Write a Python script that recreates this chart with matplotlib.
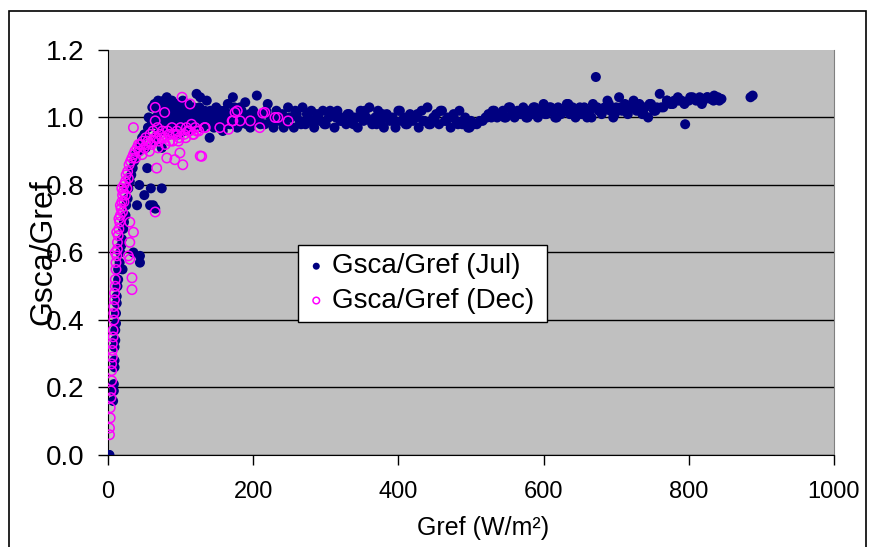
import matplotlib.pyplot as plt
from matplotlib.patches import Rectangle

# Gsca/Gref vs Gref
jul_x = [1, 2, 7, 8, 8, 9, 9, 9, 10, 10, 11, 11, 12, 12, 13, 14, 14, 16, 17, 18,
         19, 20, 21, 22, 24, 25, 27, 28, 30, 32, 35, 34, 36, 38, 40, 42, 43, 44, 44, 45,
         47, 50, 50, 52, 54, 55, 58, 59, 60, 61, 62, 63, 65, 66, 68, 70, 72, 74, 74, 76,
         78, 80, 81, 83, 85, 87, 89, 91, 93, 95, 97, 99, 101, 103, 105, 107, 109, 111, 113, 116,
         118, 120, 122, 125, 127, 130, 133, 136, 139, 140, 143, 146, 149, 152, 155, 158, 161, 165, 168, 172,
         175, 178, 182, 185, 189, 192, 196, 200, 205, 208, 212, 216, 220, 224, 228, 232, 236, 240, 244, 248,
         252, 256, 260, 264, 268, 272, 276, 280, 284, 288, 292, 296, 300, 304, 308, 312, 316, 320, 324, 328,
         332, 336, 340, 344, 348, 352, 356, 360, 364, 368, 372, 376, 380, 384, 388, 392, 396, 400, 404, 408,
         412, 416, 420, 424, 428, 432, 436, 440, 444, 448, 452, 456, 460, 464, 468, 472, 476, 480, 484, 488,
         492, 496, 500, 504, 508, 512, 516, 520, 524, 528, 532, 536, 540, 544, 548, 552, 556, 560, 564, 568,
         572, 576, 580, 584, 588, 592, 596, 600, 604, 608, 612, 616, 620, 624, 628, 632, 636, 640, 644, 648,
         652, 656, 660, 664, 668, 672, 676, 680, 684, 688, 692, 696, 700, 704, 708, 712, 716, 720, 724, 728,
         732, 736, 740, 744, 748, 752, 756, 760, 765, 770, 775, 780, 785, 790, 795, 800, 805, 810, 815, 820,
         825, 830, 835, 840, 845, 885, 888]
jul_y = [0.00, 0.00, 0.16, 0.19, 0.21, 0.26, 0.28, 0.32, 0.34, 0.37, 0.39, 0.42, 0.45, 0.47, 0.50, 0.52, 0.55, 0.57, 0.60, 0.62,
         0.64, 0.55, 0.67, 0.69, 0.71, 0.74, 0.76, 0.79, 0.81, 0.83, 0.60, 0.85, 0.87, 0.89, 0.74, 0.90, 0.80, 0.57, 0.59, 0.92,
         0.94, 0.77, 0.95, 0.91, 0.85, 0.97, 0.74, 0.79, 0.98, 1.03, 0.74, 0.93, 0.73, 1.00, 0.95, 1.02, 0.97, 0.79, 0.91, 1.00,
         0.96, 1.04, 1.06, 0.99, 0.95, 1.02, 0.97, 1.00, 1.04, 0.98, 0.95, 1.01, 1.03, 1.05, 0.99, 0.96, 1.02, 0.98, 1.01, 0.97,
         1.03, 0.99, 1.07, 1.00, 1.06, 0.97, 1.02, 1.05, 0.99, 0.94, 1.01, 0.97, 1.03, 0.99, 1.02, 0.96, 1.00, 1.04, 0.98, 1.06,
         1.01, 0.97, 1.03, 0.99, 1.045, 1.00, 0.97, 1.02, 1.065, 0.99, 1.01, 0.98, 1.04, 1.00, 0.97, 1.02, 0.99, 1.01, 0.98, 1.03,
         1.00, 0.97, 1.01, 0.99, 1.03, 0.98, 1.00, 1.02, 0.97, 1.01, 0.99, 1.02, 0.98, 1.00, 1.01, 0.97, 1.02, 0.99, 1.00, 0.98,
         1.01, 0.99, 1.00, 0.97, 1.02, 0.99, 1.00, 1.03, 0.98, 1.00, 1.02, 0.99, 0.97, 1.01, 0.99, 1.00, 0.97, 1.02, 0.99, 1.00,
         0.98, 1.01, 0.99, 1.00, 0.97, 1.02, 0.99, 1.03, 0.98, 1.00, 1.01, 0.98, 1.02, 0.99, 1.00, 0.97, 1.01, 0.99, 1.02, 0.98,
         1.00, 0.97, 0.99, 0.98, 0.98, 0.99, 0.99, 1.00, 1.01, 1.00, 1.02, 1.00, 1.01, 1.02, 1.00, 1.03, 1.01, 1.00, 1.02, 1.01,
         1.03, 1.00, 1.02, 1.01, 1.03, 1.00, 1.02, 1.04, 1.01, 1.03, 1.02, 1.00, 1.03, 1.01, 1.02, 1.04, 1.01, 1.03, 1.00, 1.02,
         1.01, 1.03, 1.00, 1.02, 1.04, 1.12, 1.02, 1.01, 1.03, 1.05, 1.02, 1.00, 1.03, 1.06, 1.02, 1.04, 1.01, 1.03, 1.05, 1.02,
         1.04, 1.01, 1.03, 1.00, 1.04, 1.02, 1.03, 1.07, 1.03, 1.05, 1.04, 1.05, 1.06, 1.05, 0.98, 1.05, 1.06, 1.055, 1.06, 1.05,
         1.06, 1.055, 1.065, 1.06, 1.055, 1.06, 1.065]

# more July points in the crowded part of the band
jul_x_top = [56, 64, 67, 69, 71, 73, 75, 77, 79, 82, 84, 86, 88, 90, 92, 94, 96, 98, 100, 102,
             104, 106, 108, 110, 112, 114, 117, 119, 121, 124, 126, 128, 131, 134, 137, 141, 144, 147, 150, 153,
             156, 160, 163, 167, 170, 174, 177, 181, 184, 188, 191, 195, 198]
jul_y_top = [1.00, 1.04, 0.98, 1.05, 0.99, 1.03, 0.97, 1.05, 1.01, 0.98, 1.03, 1.00, 1.05, 0.97, 1.02, 0.99, 1.03, 1.00, 0.98, 1.04,
             1.01, 1.03, 0.99, 1.04, 0.96, 1.00, 1.02, 0.98, 1.01, 0.98, 1.03, 1.00, 0.99, 1.00, 0.98, 1.02, 1.00, 0.99, 1.01, 0.97,
             1.00, 1.02, 0.98, 1.01, 0.99, 1.03, 1.00, 0.98, 1.02, 1.00, 0.98, 1.01, 0.99]
jul_x_mid = [202, 210, 218, 226, 234, 242, 250, 258, 266, 274, 282, 290, 298, 306, 314, 322, 330, 338, 346, 354,
             362, 370, 378, 386, 394, 402, 410, 418, 426, 434, 442, 450, 458, 466, 474, 482, 490, 498]
jul_y_mid = [1.00, 0.98, 1.02, 0.99, 1.01, 0.97, 1.00, 1.02, 0.98, 1.01, 0.99, 1.00, 0.98, 1.02, 1.00, 0.99, 1.01, 0.98, 1.00, 1.02,
             0.99, 0.98, 1.01, 1.00, 0.99, 1.02, 0.98, 1.00, 1.01, 0.99, 0.98, 1.00, 1.02, 0.99, 1.00, 0.98, 0.99, 0.97]
jul_x_high = [522, 530, 538, 546, 554, 562, 570, 578, 586, 594, 602, 610, 618, 626, 634, 642, 650, 658, 666, 674,
              682, 690, 698, 706, 714, 722, 730, 738, 746, 754, 762, 770, 778, 786, 794, 802, 810, 818, 826, 834,
              842]
jul_y_high = [1.00, 1.02, 1.01, 1.00, 1.03, 1.01, 1.02, 1.00, 1.03, 1.02, 1.01, 1.03, 1.00, 1.02, 1.04, 1.01, 1.03, 1.02, 1.00, 1.03,
              1.02, 1.04, 1.01, 1.03, 1.02, 1.04, 1.03, 1.01, 1.04, 1.02, 1.03, 1.05, 1.04, 1.05, 1.04, 1.06, 1.05, 1.04, 1.06, 1.05,
              1.05]

dec_x = [2, 2, 3, 3, 4, 4, 5, 5, 5, 6, 6, 6, 7, 7, 8, 8, 8, 9, 9, 10,
         10, 11, 11, 12, 13, 13, 14, 15, 16, 17, 18, 19, 20, 21, 22, 24, 25, 27, 28, 30,
         30, 30, 33, 33, 35, 29, 31, 33, 35, 37, 40, 42, 45, 48, 50, 52, 55, 58, 60, 62,
         65, 65, 65, 67, 68, 70, 72, 75, 78, 78, 81, 82, 85, 88, 90, 92, 95, 97, 99, 100,
         102, 103, 105, 108, 110, 113, 115, 118, 120, 125, 127, 129, 134, 154, 166, 171, 172, 175, 178, 182,
         196, 209, 213, 216, 230, 234, 248, 20, 22, 24, 26, 28, 15, 17, 19, 12, 10, 35, 65, 133,
         38, 43, 47, 53, 57, 63, 69, 74, 79, 84, 89, 94, 98, 107, 112, 117, 122]
dec_y = [0.06, 0.08, 0.11, 0.14, 0.17, 0.19, 0.22, 0.25, 0.27, 0.29, 0.31, 0.33, 0.35, 0.37, 0.40, 0.42, 0.44, 0.46, 0.48, 0.50,
         0.52, 0.55, 0.57, 0.59, 0.61, 0.63, 0.65, 0.67, 0.69, 0.71, 0.73, 0.75, 0.77, 0.78, 0.80, 0.81, 0.83, 0.84, 0.59, 0.58,
         0.63, 0.69, 0.49, 0.525, 0.66, 0.86, 0.87, 0.88, 0.89, 0.90, 0.91, 0.92, 0.92, 0.93, 0.91, 0.94, 0.93, 0.95, 0.92, 0.96,
         0.72, 0.94, 1.03, 0.85, 0.97, 0.93, 0.95, 0.96, 1.015, 0.94, 0.88, 0.96, 0.93, 0.97, 0.95, 0.875, 0.96, 0.93, 0.895, 0.97,
         1.06, 0.86, 0.95, 0.97, 0.96, 1.04, 0.98, 0.95, 0.97, 0.96, 0.886, 0.885, 0.97, 0.97, 0.965, 0.99, 0.99, 1.015, 1.02, 0.99,
         0.99, 0.97, 1.013, 1.015, 1.00, 1.00, 0.99, 0.72, 0.75, 0.77, 0.79, 0.82, 0.70, 0.74, 0.79, 0.66, 0.60, 0.97, 0.99, 0.97,
         0.88, 0.90, 0.89, 0.92, 0.90, 0.93, 0.91, 0.94, 0.92, 0.95, 0.93, 0.95, 0.94, 0.94, 0.96, 0.95, 0.96]

jul_x_all = jul_x + jul_x_top + jul_x_mid + jul_x_high
jul_y_all = jul_y + jul_y_top + jul_y_mid + jul_y_high

fig = plt.figure(figsize=(8.69, 5.47), dpi=100)
ax = fig.add_axes([0.1243, 0.1682, 0.8354, 0.7404])
ax.set_facecolor('#C0C0C0')

ax.scatter(jul_x_all, jul_y_all, s=52, color='#000080', edgecolors='none', label='Gsca/Gref (Jul)', zorder=3)
ax.scatter(dec_x, dec_y, s=46, facecolors='none', edgecolors='#FF00FF', linewidths=1.1,
           label='Gsca/Gref (Dec)', zorder=4)

ax.set_xlim(0, 1000)
ax.set_ylim(0, 1.2)
ax.set_xticks([0, 200, 400, 600, 800, 1000])
ax.set_yticks([0.0, 0.2, 0.4, 0.6, 0.8, 1.0, 1.2])
ax.set_yticklabels(['0.0', '0.2', '0.4', '0.6', '0.8', '1.0', '1.2'])
ax.yaxis.grid(True, color='black', linewidth=1.0)
ax.get_ygridlines()[-1].set_visible(False)
ax.set_axisbelow(True)

ax.tick_params(axis='y', direction='out', length=7, width=1, labelsize=20, pad=10)
ax.tick_params(axis='x', direction='out', length=7, width=1, labelsize=17, pad=12)
for lab in ax.get_xticklabels() + ax.get_yticklabels():
    lab.set_family('Liberation Sans')

ax.spines['left'].set_color('black')
ax.spines['bottom'].set_color('black')
ax.spines['right'].set_color('#808080')
ax.spines['top'].set_visible(False)

ax.set_xlabel('Gref (W/m²)', fontsize=18, family='Liberation Sans')
ax.xaxis.set_label_coords(0.517, -0.15)
# sits over the tick labels, as in the original chart
ax.set_ylabel('Gsca/Gref', fontsize=23, family='Liberation Sans')
ax.yaxis.set_label_coords(-0.068, 0.5)

leg = ax.legend(loc='lower left', bbox_to_anchor=(0.262, 0.328, 0.343, 0.188), mode='expand',
                borderaxespad=0, fancybox=False, framealpha=1, edgecolor='black',
                prop={'family': 'Liberation Sans', 'size': 20}, markerscale=0.7,
                handletextpad=0.2, handlelength=0.7, borderpad=0.3, labelspacing=0.3)
leg.get_frame().set_linewidth(1.0)

fig.patches.append(Rectangle((9 / 869, -0.1), (866 - 9) / 869, 1.1 - 11 / 547,
                             transform=fig.transFigure, fill=False, edgecolor='black', linewidth=1.2))

fig.savefig('out.png', dpi=100)
